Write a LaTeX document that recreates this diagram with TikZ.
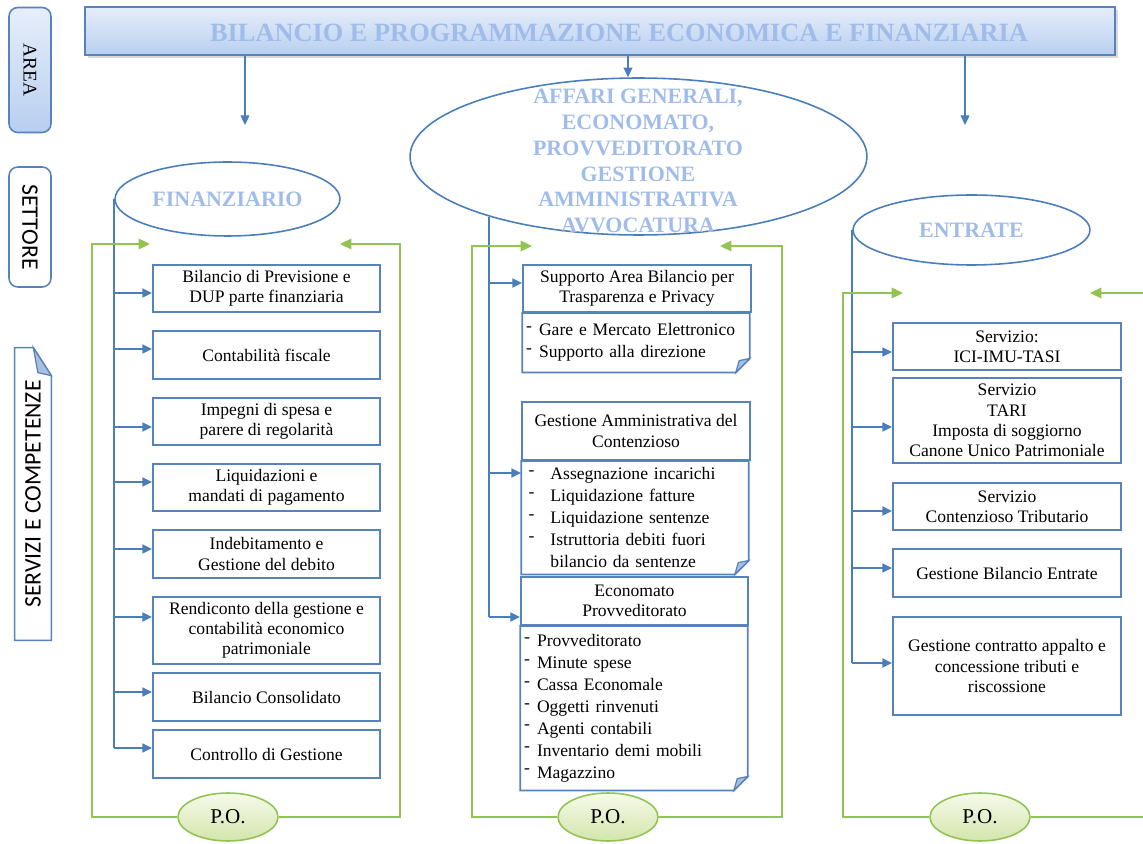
\documentclass[tikz,border=0pt]{standalone}
\usepackage{fontspec}
\setmainfont{Liberation Serif}
\newfontfamily\calib{Carlito}
\usetikzlibrary{arrows.meta,shapes.geometric,shadows}

\definecolor{lineblue}{RGB}{74,126,187}
\definecolor{boxblue}{RGB}{86,130,190}
\definecolor{titleblue}{RGB}{160,188,234}
\definecolor{leafgreen}{RGB}{146,196,82}
\definecolor{foldblue}{RGB}{170,190,222}
\definecolor{bantop}{RGB}{230,238,250}
\definecolor{banbot}{RGB}{184,207,240}
\definecolor{potop}{RGB}{246,250,234}
\definecolor{pobot}{RGB}{212,229,172}

\newcommand{\trat}{\makebox[7.4pt][l]{\raisebox{2.5pt}{-}}}
\newcommand{\tratt}{\hspace*{2pt}\makebox[12.5pt][l]{\raisebox{2.5pt}{-}}}
% outline with folded corner at the bottom right
\newcommand{\foldnote}[1]{%
  \draw[draw=boxblue, line width=1pt] (#1.north west) -- (#1.north east)
    -- ([yshift=8pt]#1.south east) -- ([xshift=-8pt]#1.south east) -- (#1.south west) -- cycle;
  \draw[draw=boxblue, line width=0.7pt, fill=foldblue] ([yshift=8pt]#1.south east)
    -- ([xshift=-8pt]#1.south east) -- ([xshift=-6pt,yshift=6.8pt]#1.south east) -- cycle;}

\begin{document}
\begin{tikzpicture}[x=0.02cm, y=-0.02cm,
    every node/.style={font=\fontsize{10}{11.5}\selectfont},
    servbox/.style={draw=boxblue, line width=1pt, fill=white, align=center,
                    minimum width=4.54cm, inner sep=1pt},
    sector/.style={ellipse, draw=lineblue, line width=0.9pt, fill=white, inner sep=0pt},
    sectortext/.style={text=titleblue, align=center,
                       font=\fontsize{12.5}{14.7}\selectfont\bfseries},
    ponode/.style={ellipse, draw=leafgreen, line width=0.9pt, top color=potop,
                   bottom color=pobot, minimum width=2cm, minimum height=0.96cm,
                   inner sep=0pt, font=\fontsize{12}{14}\selectfont},
    listbox/.style={anchor=north west, align=left, inner xsep=2pt, text width=4.4cm,
                    font=\fontsize{10}{12.5}\selectfont},
    sidelab/.style={draw=boxblue, line width=0.9pt, rounded corners=5pt,
                    minimum width=0.84cm},
    bline/.style={draw=lineblue, line width=1.1pt},
    barr/.style={bline, -{Triangle[length=5.5pt,width=5pt]}},
    gline/.style={draw=leafgreen, line width=1.1pt},
    garr/.style={gline, -{Triangle[length=6.5pt,width=6pt]}}]
\useasboundingbox (0,0) rectangle (1143,844);

% side labels
\node[sidelab, top color=bantop, bottom color=banbot, minimum height=2.5cm,
      font=\fontsize{11}{13}\selectfont] (area) at (30,70) {\rotatebox{-90}{AREA}};
\node[sidelab, fill=white, minimum height=2.4cm] (settore) at (30,227)
     {\rotatebox{-90}{\calib\fontsize{13.5}{15}\selectfont SETTORE}};
\node[minimum width=0.72cm, minimum height=5.84cm] (servizi) at (33,494)
     {\rotatebox{90}{\calib\fontsize{13.5}{15}\selectfont SERVIZI E COMPETENZE}};
\draw[draw=boxblue, line width=0.9pt] (servizi.south west) -- (servizi.north west)
  -- ([xshift=-0.36cm]servizi.north east) -- ([yshift=-0.56cm]servizi.north east)
  -- (servizi.south east) -- cycle;
\draw[draw=boxblue, line width=0.7pt, fill=foldblue] ([xshift=-0.36cm]servizi.north east)
  -- ([yshift=-0.56cm]servizi.north east) -- ([xshift=-0.27cm,yshift=-0.5cm]servizi.north east) -- cycle;

% area
\node[draw=boxblue, line width=0.9pt, top color=bantop, bottom color=banbot,
      minimum width=20.6cm, minimum height=0.96cm,
      drop shadow={opacity=0.3, shadow xshift=1.5pt, shadow yshift=-1.5pt}] (banner) at (600,31) {};
\node[text=titleblue, font=\fontsize{15}{17}\selectfont\bfseries] (bantext) at (619,33)
     {BILANCIO E PROGRAMMAZIONE ECONOMICA E FINANZIARIA};

% settori
\node[sector, sectortext, minimum width=4.5cm, minimum height=1.48cm] (fin) at (227.5,199) {FINANZIARIO};
\node[sector, minimum width=9.14cm, minimum height=3.14cm] (aff) at (638.5,156.5) {};
\node[sectortext] (afftext) at (638,161) {AFFARI GENERALI,\\ ECONOMATO,\\ PROVVEDITORATO\\
      GESTIONE\\ AMMINISTRATIVA\\ AVVOCATURA};
\node[sector, sectortext, minimum width=4.74cm, minimum height=1.4cm] (ent) at (971.5,230) {ENTRATE};

\coordinate (finin) at (245,125);
\coordinate (entin) at (965,125);
\draw[barr] (banner.south -| finin) -- (finin);
\draw[barr] (banner.south -| 628,0) -- (aff.north -| 628,0);
\draw[barr] (banner.south -| entin) -- (entin);

% finanziario
\foreach \bx/\yy/\hh/\txt in {
    fin1/288.5/47/{Bilancio di Previsione e\\ DUP parte finanziaria},
    fin2/355/48/{Contabilità fiscale},
    fin3/421.5/47/{Impegni di spesa e\\ parere di regolarità},
    fin4/487.5/47/{Liquidazioni e\\ mandati di pagamento},
    fin5/554/48/{Indebitamento e\\ Gestione del debito},
    fin6/630.5/67/{Rendiconto della gestione e\\ contabilità economico\\ patrimoniale},
    fin7/697/48/{Bilancio Consolidato},
    fin8/754/48/{Controllo di Gestione}}
  \node[servbox, minimum height=\hh*0.02cm] (\bx) at (266.5,\yy) {\txt};
\draw[bline] (fin.west) -- (fin.west |- 0,748);
\foreach \bx/\yy in {fin1/293, fin2/349, fin3/427, fin4/482, fin5/549, fin6/617, fin7/692, fin8/748}
  \draw[barr] (fin.west |- 0,\yy) -- (\bx.west |- 0,\yy);

% affari generali
\node[servbox, minimum width=4.56cm, minimum height=0.94cm] (supH) at (637,288.5)
     {Supporto Area Bilancio per\\ Trasparenza e Privacy};
\node[listbox, minimum height=1.18cm] (supB) at (supH.south west)
     {\trat Gare e Mercato Elettronico\\ \trat Supporto alla direzione};
\foldnote{supB}
\node[servbox, minimum width=4.56cm, minimum height=1.16cm] (conH) at (636,431)
     {Gestione Amministrativa del\\ Contenzioso};
\node[listbox, minimum height=2.26cm] (conB) at (conH.south west)
     {\tratt Assegnazione incarichi\\ \tratt Liquidazione fatture\\ \tratt Liquidazione sentenze\\
      \tratt Istruttoria debiti fuori\\ \hspace*{14.5pt}bilancio da sentenze};
\foldnote{conB}
\node[servbox, minimum width=4.54cm, minimum height=0.96cm] (ecoH) at (634.5,601)
     {Economato\\ Provveditorato};
\node[listbox, minimum height=3.28cm] (ecoB) at (ecoH.south west)
     {\trat Provveditorato\\ \trat Minute spese\\ \trat Cassa Economale\\ \trat Oggetti rinvenuti\\
      \trat Agenti contabili\\ \trat Inventario demi mobili\\ \trat Magazzino};
\foldnote{ecoB}
\draw[bline] (aff.202.6) -- (aff.202.6 |- 0,617);
\foreach \bx/\yy in {supH/283, conB/473, ecoH/617}
  \draw[barr] (aff.202.6 |- 0,\yy) -- (\bx.west |- 0,\yy);

% entrate
\foreach \bx/\yy/\hh/\txt in {
    ent1/346.5/47/{Servizio:\\ ICI-IMU-TASI},
    ent2/420.5/85/{Servizio\\ TARI\\ Imposta di soggiorno\\ Canone Unico Patrimoniale},
    ent3/506.5/47/{Servizio\\ Contenzioso Tributario},
    ent4/573/48/{Gestione Bilancio Entrate},
    ent5/666/98/{Gestione contratto appalto e\\ concessione tributi e\\ riscossione}}
  \node[servbox, minimum width=4.56cm, minimum height=\hh*0.02cm] (\bx) at (1007,\yy) {\txt};
\draw[bline] (ent.west) -- (ent.west |- 0,663);
\foreach \bx/\yy in {ent1/352, ent2/427, ent3/511, ent4/568, ent5/663}
  \draw[barr] (ent.west |- 0,\yy) -- (\bx.west |- 0,\yy);

% P.O.
\node[ponode] (po1) at (228,817) {P.O.};
\node[ponode] (po2) at (608,817) {P.O.};
\node[ponode] (po3) at (980,817) {P.O.};
\coordinate (gl1c) at (92,244);   \coordinate (gl1) at (150,244);
\coordinate (gr1c) at (400,244);  \coordinate (gr1) at (340,244);
\coordinate (gl2c) at (472,246);  \coordinate (gl2) at (532,246);
\coordinate (gr2c) at (782,246);  \coordinate (gr2) at (720,246);
\coordinate (gl3c) at (843,293);  \coordinate (gl3) at (903,293);
\coordinate (gr3c) at (1160,293); \coordinate (gr3) at (1090,293);
\foreach \po/\lc/\ll/\rc/\rr in {po1/gl1c/gl1/gr1c/gr1, po2/gl2c/gl2/gr2c/gr2, po3/gl3c/gl3/gr3c/gr3} {
  \draw[garr] (\po.west) -| (\lc) -- (\ll);
  \draw[garr] (\po.east) -| (\rc) -- (\rr);
}
\end{tikzpicture}
\end{document}
